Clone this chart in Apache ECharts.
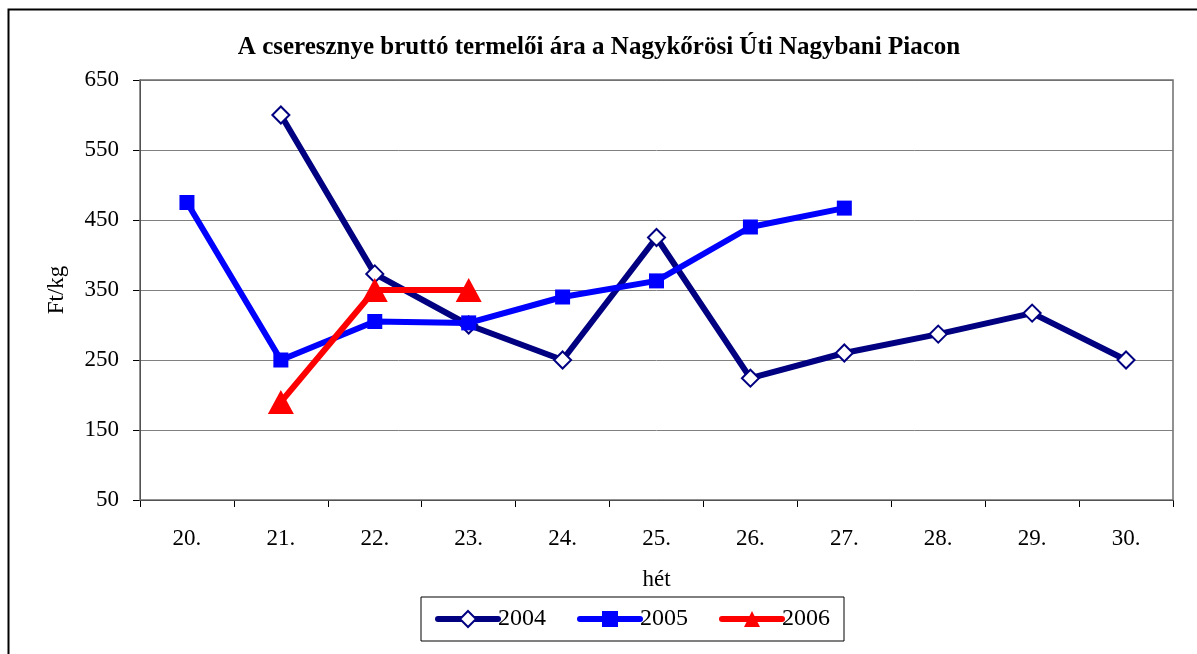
<!DOCTYPE html>
<html>
<head>
<meta charset="utf-8">
<script src="https://cdn.jsdelivr.net/npm/echarts@6/dist/echarts.min.js"></script>
<style>
  html, body { margin: 0; padding: 0; background: #ffffff; }
  #chart { width: 1197px; height: 654px; }
</style>
</head>
<body>
<div id="chart"></div>
<script>
const weeks = ['20.', '21.', '22.', '23.', '24.', '25.', '26.', '27.', '28.', '29.', '30.']
const values2004 = [null, 600, 373, 300, 250, 425, 224, 260, 287, 317, 250]
const values2005 = [475, 250, 305, 303, 340, 363, 440, 467, null, null, null]
const values2006 = [null, 190, 350, 350, null, null, null, null, null, null, null]
const yTicks = [50, 150, 250, 350, 450, 550, 650]

const SERIF = "'Liberation Serif', 'Times New Roman', serif"
const GRID_COLOR = '#808080'

const chart = echarts.init(document.getElementById('chart'))

chart.setOption({
  animation: false,
  textStyle: { fontFamily: SERIF, color: '#000000' },
  title: {
    text: 'A cseresznye bruttó termelői ára a Nagykőrösi Úti Nagybani Piacon',
    left: 594,
    top: 30,
    textAlign: 'center',
    textStyle: { fontFamily: SERIF, fontSize: 25, fontWeight: 'bold', color: '#000000' }
  },
  graphic: [
    {
      type: 'rect',
      shape: { x: 8.5, y: 9.5, width: 1300, height: 700 },
      style: { fill: 'none', stroke: '#000000', lineWidth: 2 },
      silent: true
    },
    {
      type: 'rect',
      shape: { x: 140, y: 80, width: 1033, height: 420 },
      style: { fill: 'none', stroke: '#6e6e6e', lineWidth: 1.5 },
      silent: true,
      z: 1
    }
  ],
  grid: { left: 140, right: 24, top: 80, bottom: 154 },
  legend: {
    left: 421,
    top: 597,
    padding: [10, 14, 10, 14],
    itemGap: 31,
    itemWidth: 60,
    itemHeight: 20,
    borderColor: '#000000',
    borderWidth: 1,
    lineStyle: { width: 6, cap: 'round' },
    textStyle: { fontFamily: SERIF, fontSize: 24, color: '#000000', padding: [0, 0, 0, -5] },
    data: ['2004', '2005', '2006']
  },
  xAxis: {
    type: 'category',
    data: weeks,
    boundaryGap: true,
    name: 'hét',
    nameLocation: 'middle',
    nameGap: 68,
    nameTextStyle: { fontFamily: SERIF, fontSize: 23, color: '#000000' },
    axisLine: { lineStyle: { color: '#000000', width: 1 } },
    axisTick: { show: true, length: 7, lineStyle: { color: '#000000' } },
    axisLabel: { fontFamily: SERIF, fontSize: 23, color: '#000000', margin: 27 },
    splitLine: { show: false }
  },
  yAxis: {
    type: 'value',
    min: yTicks[0],
    max: yTicks[yTicks.length - 1],
    interval: 100,
    name: 'Ft/kg',
    nameLocation: 'middle',
    nameGap: 72,
    nameRotate: 90,
    nameTextStyle: { fontFamily: SERIF, fontSize: 23, color: '#000000' },
    axisLine: { show: true, lineStyle: { color: '#000000', width: 1 } },
    axisTick: { show: true, length: 7, inside: false, lineStyle: { color: '#000000' } },
    axisLabel: { fontFamily: SERIF, fontSize: 23, color: '#000000', margin: 21 },
    splitLine: { show: true, lineStyle: { color: GRID_COLOR, width: 1 } }
  },
  series: [
    {
      name: '2004',
      type: 'line',
      data: values2004,
      connectNulls: false,
      symbol: 'diamond',
      symbolSize: 17,
      lineStyle: { color: '#000080', width: 6 },
      itemStyle: { color: '#ffffff', borderColor: '#000080', borderWidth: 2 },
      z: 2
    },
    {
      name: '2005',
      type: 'line',
      data: values2005,
      symbol: 'rect',
      symbolSize: 15,
      lineStyle: { color: '#0000ff', width: 6 },
      itemStyle: { color: '#0000ff' },
      z: 3
    },
    {
      name: '2006',
      type: 'line',
      data: values2006,
      symbol: 'triangle',
      symbolSize: [26, 24],
      lineStyle: { color: '#ff0000', width: 6 },
      itemStyle: { color: '#ff0000' },
      z: 4
    }
  ]
})
</script>
</body>
</html>
